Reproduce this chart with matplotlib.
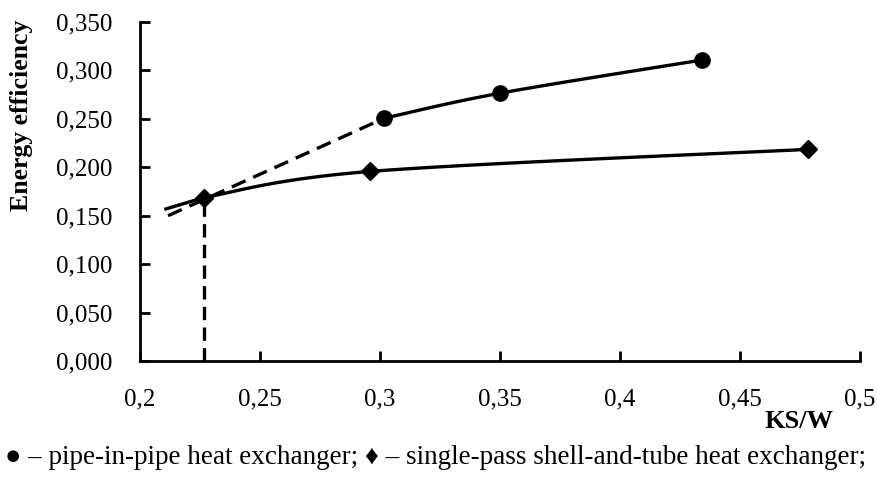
import numpy as np
import matplotlib
matplotlib.use("Agg")
import matplotlib.pyplot as plt
from matplotlib.ticker import FuncFormatter

# data
ks_pipe = [0.3017, 0.350, 0.434]
eff_pipe = [0.2506, 0.2765, 0.3107]
ks_pipe_ext = [0.2117, 0.3017]     # dashed extrapolation
eff_pipe_ext = [0.150, 0.2506]

ks_shell = [0.2267, 0.2958, 0.4783]
eff_shell = [0.1688, 0.1957, 0.2185]
ks_shell_ext = [0.2108, 0.2267]    # solid line starts a bit left of first marker
eff_shell_ext = [0.157, 0.1688]

x_ticks = [0.2, 0.25, 0.3, 0.35, 0.4, 0.45, 0.5]
y_ticks = [0.0, 0.05, 0.1, 0.15, 0.2, 0.25, 0.3, 0.35]


def smooth(xs, ys, n=40):
    # excel-like smoothed line (catmull-rom as bezier)
    pts = np.column_stack((xs, ys))
    out = []
    for i in range(len(pts) - 1):
        p0 = pts[i - 1] if i > 0 else pts[i]
        p1 = pts[i]
        p2 = pts[i + 1]
        p3 = pts[i + 2] if i + 2 < len(pts) else pts[i + 1]
        c1 = p1 + (p2 - p0) / 6
        c2 = p2 - (p3 - p1) / 6
        t = np.linspace(0, 1, n)[:, None]
        seg = (1 - t) ** 3 * p1 + 3 * (1 - t) ** 2 * t * c1 + 3 * (1 - t) * t ** 2 * c2 + t ** 3 * p2
        out.append(seg)
    out = np.vstack(out)
    return out[:, 0], out[:, 1]


plt.rcParams['font.family'] = ['Liberation Serif', 'DejaVu Sans']

fig = plt.figure(figsize=(8.77, 4.91), dpi=100)
ax = fig.add_axes([140 / 877, 1 - 361 / 491, 720 / 877, 339 / 491])

lw = 2.4
# shell-and-tube
sx, sy = smooth(ks_shell, eff_shell)
ax.plot(sx, sy, color='black', lw=lw)
ax.plot(ks_shell_ext, eff_shell_ext, color='black', lw=lw)
ax.plot(ks_shell, eff_shell, 'D', color='black', markersize=9.5)

# pipe-in-pipe
px, py = smooth(ks_pipe, eff_pipe)
ax.plot(px, py, color='black', lw=lw)
ax.plot(ks_pipe_ext, eff_pipe_ext, color='black', lw=lw, dashes=(4.5, 2.5))
ax.plot(ks_pipe, eff_pipe, 'o', color='black', markersize=11)

# vertical dashed marker line
ax.plot([ks_shell[0], ks_shell[0]], [0, eff_shell[0]], color='black', lw=lw, dashes=(4, 2.2))

ax.set_xlim(0.2, 0.5)
ax.set_ylim(0, 0.35)
ax.set_xticks(x_ticks)
ax.set_yticks(y_ticks)
ax.xaxis.set_major_formatter(FuncFormatter(lambda v, p: f"{v:g}".replace('.', ',')))
ax.yaxis.set_major_formatter(FuncFormatter(lambda v, p: f"{v:.3f}".replace('.', ',')))
for s in ['top', 'right']:
    ax.spines[s].set_visible(False)
for s in ['left', 'bottom']:
    ax.spines[s].set_linewidth(2)
ax.tick_params(direction='in', length=7, width=2, labelsize=18)
ax.tick_params(axis='x', pad=20)
ax.tick_params(axis='y', pad=20)
ax.patch.set_alpha(0)

fig.text(22 / 877, 1 - 115 / 491, 'Energy efficiency', rotation=90, fontsize=18.5,
         fontweight='bold', ha='center', va='center')
fig.text(799 / 877, 1 - 421 / 491, 'KS/W', fontsize=19, fontweight='bold',
         ha='center', va='center')
fig.text(5 / 877, 1 - 458 / 491,
         '● – pipe-in-pipe heat exchanger; ♦ – single-pass shell-and-tube heat exchanger;',
         fontsize=19.5, ha='left', va='center')

fig.savefig('out.png', dpi=100)
